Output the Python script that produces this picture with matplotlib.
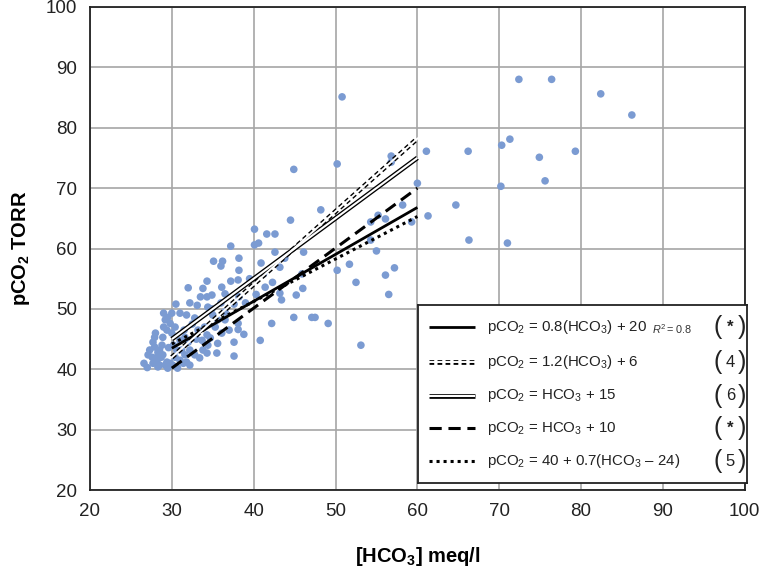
import matplotlib
matplotlib.use("Agg")
import matplotlib.pyplot as plt

plt.rcParams['font.family'] = ['Liberation Sans', 'DejaVu Sans']
plt.rcParams['mathtext.fontset'] = 'custom'
plt.rcParams['mathtext.rm'] = 'Liberation Sans'
plt.rcParams['mathtext.it'] = 'Liberation Sans:italic'
plt.rcParams['mathtext.bf'] = 'Liberation Sans:bold'

# scatter data: HCO3 (meq/l) vs pCO2 (torr)
hco3 = [72.4, 76.4, 82.4, 86.2, 66.2, 70.3, 71.3, 74.9, 79.3, 70.2, 75.6, 64.7, 66.3, 71.0,
        50.8, 50.2, 56.8, 56.8, 48.2, 60.0, 58.2, 55.2, 54.3, 56.1, 59.3, 61.3, 61.1, 44.9,
        44.5, 54.3, 55.0, 46.1, 51.7, 50.2, 45.9, 56.1, 57.2, 52.5, 45.2, 46.0, 56.5, 44.9,
        47.1, 47.5, 49.1, 53.1,
        40.1, 41.6, 42.6, 37.2, 40.1, 40.6, 42.6, 35.1, 36.2, 36.0, 38.2, 38.2, 40.9, 43.8,
        43.2, 34.3, 37.2, 38.1, 41.2, 42.3,
        36.1, 34.9, 34.4, 34.9, 36.0, 37.6, 38.2, 41.4, 43.2, 43.4, 40.3, 42.2, 40.8, 38.1,
        38.1, 38.8, 37.0, 37.6, 35.3, 36.1, 34.7, 35.6, 34.4, 35.5, 37.6, 34.3, 36.5, 35.6,
        36.5,
        26.6, 27.7, 27.9, 28.3, 28.2, 28.8, 28.9, 29.4, 29.2, 28.5, 29.8, 30.1, 28.9, 29.4,
        29.5, 30.0, 29.8, 29.2, 30.5, 32.2, 31.0, 31.8, 32.8, 33.1, 33.8, 34.3, 31.0, 31.6,
        32.0, 31.2, 32.2, 32.8, 31.0, 32.2, 31.4, 33.4, 33.8, 33.7, 33.2, 34.0, 34.3, 30.4,
        30.0, 30.6, 30.4, 31.6, 27.3, 27.1, 27.6, 27.7, 28.3, 29.5, 30.7, 31.8, 27.9, 28.5,
        29.0, 28.0, 29.0, 32.5, 33.0, 35.0, 36.5, 39.0, 39.5, 33.5, 32.0, 28.7, 30.2, 31.5,
        27.0, 28.1, 29.6]
pco2 = [88.0, 88.0, 85.6, 82.1, 76.1, 77.1, 78.1, 75.1, 76.1, 70.3, 71.2, 67.2, 61.4, 60.9,
        85.1, 74.0, 75.3, 74.3, 66.4, 70.8, 67.2, 65.5, 64.4, 64.9, 64.4, 65.4, 76.1, 73.1,
        64.7, 61.4, 59.6, 59.4, 57.4, 56.4, 55.8, 55.6, 56.8, 54.4, 52.3, 53.4, 52.4, 48.6,
        48.6, 48.6, 47.6, 44.0,
        63.2, 62.4, 62.4, 60.4, 60.6, 60.9, 59.4, 57.9, 57.9, 57.1, 58.4, 56.4, 57.6, 58.4,
        56.9, 54.6, 54.6, 54.8, 55.8, 54.4,
        53.6, 52.3, 50.3, 50.0, 51.0, 50.8, 52.0, 53.6, 52.6, 51.5, 52.4, 47.6, 44.8, 47.6,
        46.6, 45.8, 46.5, 44.5, 47.0, 46.0, 45.2, 44.3, 44.0, 42.7, 42.2, 42.7, 49.5, 48.2,
        48.2,
        41.0, 44.5, 43.7, 42.8, 41.5, 44.0, 42.4, 41.2, 40.7, 40.7, 41.0, 40.7, 45.3, 46.5,
        48.6, 49.3, 47.6, 48.2, 50.8, 51.0, 49.3, 49.0, 48.5, 50.6, 53.4, 52.0, 44.8, 45.3,
        44.5, 43.2, 43.2, 42.4, 41.5, 40.7, 41.0, 41.9, 43.2, 44.8, 46.5, 47.0, 45.7, 47.0,
        46.0, 43.2, 42.0, 42.4, 43.2, 42.4, 42.0, 41.0, 40.4, 40.2, 40.2, 41.2, 45.3, 43.2,
        49.3, 46.0, 47.0, 47.5, 45.0, 49.0, 52.5, 51.0, 55.0, 52.0, 53.5, 42.0, 44.0, 46.5,
        40.3, 41.9, 43.6]

# fitted / published lines, endpoints read at HCO3 = 30 and 60
line_x = [30, 60]
fit_08 = [43.5, 66.8]     # 0.8(HCO3) + 20
fit_12 = [42.0, 78.2]     # 1.2(HCO3) + 6
fit_p15 = [45.0, 75.0]    # HCO3 + 15
fit_p10 = [40.2, 70.0]    # HCO3 + 10
fit_07 = [44.2, 65.3]     # 40 + 0.7(HCO3 - 24)

labels = [r"pCO$_2$ = 0.8(HCO$_3$) + 20",
          r"pCO$_2$ = 1.2(HCO$_3$) + 6",
          r"pCO$_2$ = HCO$_3$ + 15",
          r"pCO$_2$ = HCO$_3$ + 10",
          r"pCO$_2$ = 40 + 0.7(HCO$_3$ – 24)"]
refs = ["*", "4", "6", "*", "5"]


def draw_line(a, xs, ys, kind):
    if kind == 0:    # solid
        a.plot(xs, ys, color="black", lw=2.0, solid_capstyle="butt", zorder=4)
    elif kind == 1:  # double, short dashes
        a.plot(xs, ys, color="black", lw=3.4, ls=(0, (1.0, 0.7)), zorder=4)
        a.plot(xs, ys, color="white", lw=1.4, zorder=4.1)
    elif kind == 2:  # double solid
        a.plot(xs, ys, color="black", lw=3.4, solid_capstyle="butt", zorder=4)
        a.plot(xs, ys, color="white", lw=1.5, solid_capstyle="butt", zorder=4.1)
    elif kind == 3:  # dashed
        a.plot(xs, ys, color="black", lw=2.2, ls=(0, (4, 2.2)), zorder=4)
    else:            # dotted
        a.plot(xs, ys, color="black", lw=2.2, ls=(0, (1, 1.3)), zorder=4)


fig = plt.figure(figsize=(7.65, 5.7), dpi=100)
ax = fig.add_axes([0.1176, 0.140, 0.856, 0.848])

ax.scatter(hco3, pco2, s=30, color="#7b9bd2", edgecolors="none", zorder=2)

for k, ys in enumerate([fit_08, fit_12, fit_p15, fit_p10, fit_07]):
    draw_line(ax, line_x, ys, k)

ax.set_xlim(20, 100)
ax.set_ylim(20, 100)
ax.set_xticks(range(20, 101, 10))
ax.set_yticks(range(20, 101, 10))
ax.grid(True, color="#a6a6a6", lw=1.2)
ax.set_axisbelow(True)
ax.tick_params(length=0, labelsize=13.5, pad=9, colors="#222222")
for sp in ax.spines.values():
    sp.set_color("#222222")
    sp.set_linewidth(1.3)

ax.set_xlabel(r"[HCO$_\mathbf{3}$] meq/l", fontsize=14.5, fontweight="bold", labelpad=18)
ax.set_ylabel(r"pCO$_\mathbf{2}$ TORR", fontsize=14.5, fontweight="bold", labelpad=10)

# legend box drawn as its own small axes
lg = fig.add_axes([0.546, 0.152, 0.431, 0.313])
lg.set_xlim(0, 1)
lg.set_ylim(0, 1)
lg.set_xticks([])
lg.set_yticks([])
for sp in lg.spines.values():
    sp.set_color("#222222")
    sp.set_linewidth(1.3)
lg.set_zorder(5)
rows = [0.875, 0.68, 0.49, 0.31, 0.125]
for i, r in enumerate(rows):
    draw_line(lg, [0.035, 0.175], [r, r], i)
    lg.text(0.21, r, labels[i], fontsize=10.8, va="center", ha="left", color="#222222")
    lg.text(0.91, r, "(", fontsize=18, va="center", ha="center", color="#222222")
    lg.text(0.985, r, ")", fontsize=18, va="center", ha="center", color="#222222")
    lg.text(0.948, r, refs[i], fontsize=12, va="center", ha="center", color="#222222",
            fontweight="bold" if refs[i] == "*" else "normal")
lg.text(0.71, rows[0] - 0.01, r"$R^2 = 0.8$", fontsize=7.8, va="center", ha="left",
        color="#333333", style="italic")

fig.savefig("out.png", dpi=100)
